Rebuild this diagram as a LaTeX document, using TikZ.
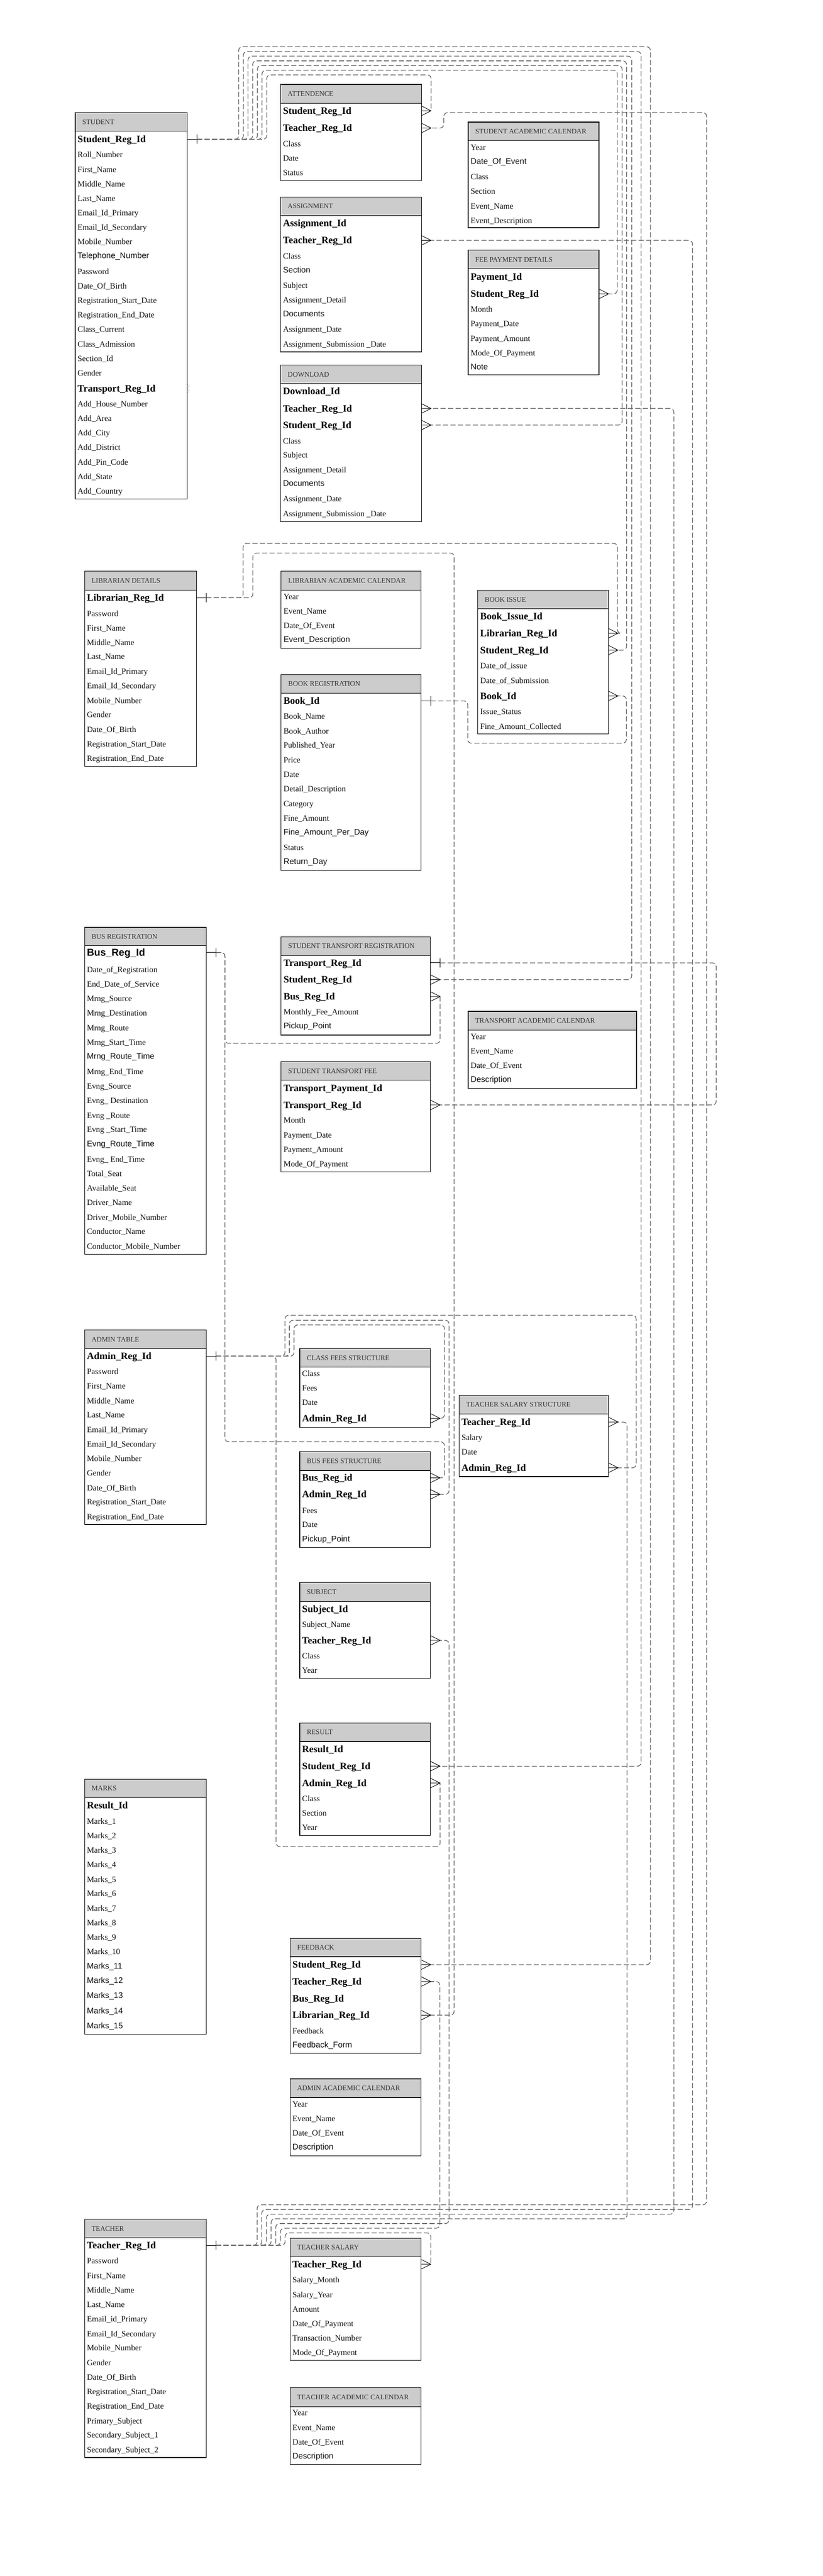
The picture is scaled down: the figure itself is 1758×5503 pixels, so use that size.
\documentclass[tikz,border=0pt]{standalone}
\usepackage{fontspec}
\setmainfont{Liberation Serif}
\setsansfont{Liberation Sans}
\usetikzlibrary{calc,fit}
\definecolor{hdrgray}{HTML}{CCCCCC}
\definecolor{ttlgray}{HTML}{333333}
\definecolor{lngray}{HTML}{5E5E5E}
\definecolor{txtblack}{HTML}{111111}
\newcounter{rowc}
\newcommand{\ertable}[7]{%
  \gdef\curx{#2}%
  \fill[white] (#2,#4) rectangle (#3,#6);
  \path[hdrbox] (#2,#4) rectangle (#3,#5);
  \coordinate (#1-nw) at (#2,#4);
  \coordinate (#1-se) at (#3,#6);
  \node[fit=(#1-nw)(#1-se), inner sep=0pt, draw=black, line width=1.3pt] (#1) {};
  \node[ttl] (#1-title) at ({#2+15},{(#4+#5)/2}) {#7};
}
\newcommand{\erow}[3]{\stepcounter{rowc}\node[#1] (row-\arabic{rowc}) at ({\curx+5},#2) {#3};}
\newcommand{\erowN}[4]{\node[#1] (#2) at ({\curx+5},#3) {#4};}
\newcommand{\onestart}[1]{\draw[endline] (#1) -- ++(20,0) ++(0,-10) -- ++(0,20);}
\newcommand{\manyend}[1]{\draw[endline] ($(#1)+(0,-10)$) -- ($(#1)+(20,0)$) -- ($(#1)+(0,10)$) (#1) -- ($(#1)+(20,0)$);}
\newcommand{\erlink}[5]{%
  \coordinate (A) at (#1.east |- #2);
  \coordinate (B) at (#3.east |- #4);
  \onestart{A}
  \manyend{B}
  \draw[relline] ($(A)+(20,0)$) #5 ($(B)+(20,0)$);
}
\tikzset{
  hdrbox/.style={draw=black, line width=1.3pt, fill=hdrgray},
  ttl/.style={anchor=west, inner sep=0pt, text height=10pt, text depth=0pt, text=ttlgray, font=\fontsize{15pt}{17pt}\selectfont},
  fr/.style={anchor=west, inner sep=0pt, text height=11.5pt, text depth=0pt, text=txtblack, font=\fontsize{17.5pt}{20pt}\selectfont},
  fb/.style={anchor=west, inner sep=0pt, text height=14pt, text depth=0pt, text=black, font=\fontsize{21pt}{24pt}\selectfont\bfseries},
  fs/.style={anchor=west, inner sep=0pt, text height=12.5pt, text depth=0pt, text=txtblack, font=\fontsize{17.5pt}{20pt}\selectfont\sffamily},
  fsb/.style={anchor=west, inner sep=0pt, text height=15.5pt, text depth=0pt, text=black, font=\fontsize{21.5pt}{24pt}\selectfont\sffamily\bfseries},
  relline/.style={draw=lngray, line width=1.4pt, dash pattern=on 11pt off 5pt, rounded corners=8pt},
  endline/.style={draw=black, line width=1pt},
}
\begin{document}
\begin{tikzpicture}[x=1pt,y=-1pt]
\fill[white] (0,0) rectangle (1758,5503);
\useasboundingbox (0,0) rectangle (1758,5503);

% ---------------- tables ----------------
\ertable{stu}{160.7}{400.3}{240.7}{280.2}{1065.7}{STUDENT}
\erowN{fb}{stu-sid}{297.6}{Student\_Reg\_Id}
\erow{fr}{331}{Roll\_Number}
\erow{fr}{362}{First\_Name}
\erow{fr}{393}{Middle\_Name}
\erow{fr}{424}{Last\_Name}
\erow{fr}{455}{Email\_Id\_Primary}
\erow{fr}{486}{Email\_Id\_Secondary}
\erow{fr}{517}{Mobile\_Number}
\erow{fs}{546}{Telephone\_Number}
\erow{fr}{580}{Password}
\erow{fr}{611}{Date\_Of\_Birth}
\erow{fr}{642}{Registration\_Start\_Date}
\erow{fr}{673}{Registration\_End\_Date}
\erow{fr}{704}{Class\_Current}
\erow{fr}{735}{Class\_Admission}
\erow{fr}{766}{Section\_Id}
\erow{fr}{797}{Gender}
\erowN{fb}{stu-tid}{830}{Transport\_Reg\_Id}
\erow{fr}{863}{Add\_House\_Number}
\erow{fr}{894}{Add\_Area}
\erow{fr}{925}{Add\_City}
\erow{fr}{956}{Add\_District}
\erow{fr}{987}{Add\_Pin\_Code}
\erow{fr}{1018}{Add\_State}
\erow{fr}{1049}{Add\_Country}

\ertable{att}{599.7}{900.5}{180.4}{220.6}{385.4}{ATTENDENCE}
\erowN{fb}{att-sid}{236.7}{Student\_Reg\_Id}
\erowN{fb}{att-tid}{273.5}{Teacher\_Reg\_Id}
\erow{fr}{307}{Class}
\erow{fr}{337.8}{Date}
\erow{fr}{369}{Status}

\ertable{asg}{599.7}{900.5}{420.9}{460.4}{751.7}{ASSIGNMENT}
\erow{fb}{477}{Assignment\_Id}
\erowN{fb}{asg-tid}{513.5}{Teacher\_Reg\_Id}
\erow{fr}{547}{Class}
\erow{fs}{576}{Section}
\erow{fr}{610}{Subject}
\erow{fr}{641}{Assignment\_Detail}
\erow{fs}{670.6}{Documents}
\erow{fr}{704}{Assignment\_Date}
\erow{fr}{735.6}{Assignment\_Submission \_Date}

\ertable{dwn}{599.7}{900.5}{779.8}{819.3}{1114.6}{DOWNLOAD}
\erow{fb}{836}{Download\_Id}
\erowN{fb}{dwn-tid}{872.6}{Teacher\_Reg\_Id}
\erowN{fb}{dwn-sid}{908}{Student\_Reg\_Id}
\erow{fr}{942}{Class}
\erow{fr}{972.6}{Subject}
\erow{fr}{1004}{Assignment\_Detail}
\erow{fs}{1032}{Documents}
\erow{fr}{1066}{Assignment\_Date}
\erow{fr}{1098}{Assignment\_Submission \_Date}

\ertable{sac}{1000.5}{1280}{260.8}{300.3}{486.5}{STUDENT ACADEMIC CALENDAR}
\erow{fr}{315}{Year}
\erow{fs}{344.5}{Date\_Of\_Event}
\erow{fr}{378}{Class}
\erow{fr}{408.8}{Section}
\erow{fr}{440}{Event\_Name}
\erow{fr}{471}{Event\_Description}

\ertable{fee}{1000.5}{1280}{534.7}{574}{801}{FEE PAYMENT DETAILS}
\erow{fb}{591.6}{Payment\_Id}
\erowN{fb}{fee-sid}{627.8}{Student\_Reg\_Id}
\erow{fr}{661}{Month}
\erow{fr}{692}{Payment\_Date}
\erow{fr}{723.5}{Payment\_Amount}
\erow{fr}{754}{Mode\_Of\_Payment}
\erow{fs}{783}{Note}

\ertable{lib}{180.6}{420}{1220.4}{1261}{1636.7}{LIBRARIAN DETAILS}
\erowN{fb}{lib-lid}{1277}{Librarian\_Reg\_Id}
\erow{fr}{1310.7}{Password}
\erow{fr}{1342}{First\_Name}
\erow{fr}{1372.7}{Middle\_Name}
\erow{fr}{1403}{Last\_Name}
\erow{fr}{1434.7}{Email\_Id\_Primary}
\erow{fr}{1465}{Email\_Id\_Secondary}
\erow{fr}{1496.7}{Mobile\_Number}
\erow{fr}{1527}{Gender}
\erow{fr}{1558.7}{Date\_Of\_Birth}
\erow{fr}{1589}{Registration\_Start\_Date}
\erow{fr}{1620.6}{Registration\_End\_Date}

\ertable{lac}{600.8}{900}{1220.4}{1261}{1385}{LIBRARIAN ACADEMIC CALENDAR}
\erow{fr}{1274.7}{Year}
\erow{fr}{1306}{Event\_Name}
\erow{fr}{1336.7}{Date\_Of\_Event}
\erow{fs}{1365.8}{Event\_Description}

\ertable{bkr}{600.8}{900}{1440.8}{1480.6}{1859.4}{BOOK REGISTRATION}
\erowN{fb}{bkr-bid}{1497.4}{Book\_Id}
\erow{fr}{1530}{Book\_Name}
\erow{fr}{1561.7}{Book\_Author}
\erow{fr}{1592}{Published\_Year}
\erow{fr}{1623.7}{Price}
\erow{fr}{1654}{Date}
\erow{fr}{1685.7}{Detail\_Description}
\erow{fr}{1717}{Category}
\erow{fr}{1747.7}{Fine\_Amount}
\erow{fs}{1776.8}{Fine\_Amount\_Per\_Day}
\erow{fr}{1810.4}{Status}
\erow{fs}{1839.5}{Return\_Day}

\ertable{bki}{1021}{1300}{1261}{1300}{1567.8}{BOOK ISSUE}
\erow{fb}{1316.8}{Book\_Issue\_Id}
\erowN{fb}{bki-lid}{1352.8}{Librarian\_Reg\_Id}
\erowN{fb}{bki-sid}{1388.8}{Student\_Reg\_Id}
\erow{fr}{1422.4}{Date\_of\_issue}
\erow{fr}{1453.8}{Date\_of\_Submission}
\erowN{fb}{bki-bid}{1486.7}{Book\_Id}
\erow{fr}{1520}{Issue\_Status}
\erow{fr}{1551.8}{Fine\_Amount\_Collected}

\ertable{bus}{180.6}{440.8}{1981}{2020}{2679.6}{BUS REGISTRATION}
\erowN{fsb}{bus-bid}{2034.7}{Bus\_Reg\_Id}
\erow{fr}{2071.4}{Date\_of\_Registration}
\erow{fr}{2102}{End\_Date\_of\_Service}
\erow{fr}{2133.4}{Mrng\_Source}
\erow{fr}{2164.5}{Mrng\_Destination}
\erow{fr}{2196}{Mrng\_Route}
\erow{fr}{2226.5}{Mrng\_Start\_Time}
\erow{fs}{2256.4}{Mrng\_Route\_Time}
\erow{fr}{2289}{Mrng\_End\_Time}
\erow{fr}{2320.7}{Evng\_Source}
\erow{fr}{2351}{Evng\_ Destination}
\erow{fr}{2382.6}{Evng \_Route}
\erow{fr}{2413}{Evng \_Start\_Time}
\erow{fs}{2443}{Evng\_Route\_Time}
\erow{fr}{2476.8}{Evng\_ End\_Time}
\erow{fr}{2507.4}{Total\_Seat}
\erow{fr}{2538.8}{Available\_Seat}
\erow{fr}{2569.4}{Driver\_Name}
\erow{fr}{2600.8}{Driver\_Mobile\_Number}
\erow{fr}{2631}{Conductor\_Name}
\erow{fr}{2662.7}{Conductor\_Mobile\_Number}

\ertable{str}{600.8}{919.9}{2001}{2040.8}{2211}{STUDENT TRANSPORT REGISTRATION}
\erowN{fb}{str-tid}{2056.9}{Transport\_Reg\_Id}
\erowN{fb}{str-sid}{2092.8}{Student\_Reg\_Id}
\erowN{fb}{str-bid}{2128.8}{Bus\_Reg\_Id}
\erow{fr}{2162.3}{Monthly\_Fee\_Amount}
\erow{fs}{2191.5}{Pickup\_Point}

\ertable{tac}{1000.5}{1360.3}{2160.5}{2200.3}{2325}{TRANSPORT ACADEMIC CALENDAR}
\erow{fr}{2214.5}{Year}
\erow{fr}{2246}{Event\_Name}
\erow{fr}{2276.5}{Date\_Of\_Event}
\erow{fs}{2306}{Description}

\ertable{stf}{600.8}{919.9}{2267.9}{2307.6}{2503.6}{STUDENT TRANSPORT FEE}
\erow{fb}{2324.5}{Transport\_Payment\_Id}
\erowN{fb}{stf-tid}{2360.5}{Transport\_Reg\_Id}
\erow{fr}{2393.4}{Month}
\erow{fr}{2424.7}{Payment\_Date}
\erow{fr}{2456}{Payment\_Amount}
\erow{fr}{2486.7}{Mode\_Of\_Payment}

\ertable{adm}{180.6}{440.8}{2841}{2880.9}{3256.6}{ADMIN TABLE}
\erowN{fb}{adm-aid}{2897}{Admin\_Reg\_Id}
\erow{fr}{2930.6}{Password}
\erow{fr}{2961}{First\_Name}
\erow{fr}{2992.6}{Middle\_Name}
\erow{fr}{3023}{Last\_Name}
\erow{fr}{3054.6}{Email\_Id\_Primary}
\erow{fr}{3085}{Email\_Id\_Secondary}
\erow{fr}{3116.6}{Mobile\_Number}
\erow{fr}{3147}{Gender}
\erow{fr}{3178.6}{Date\_Of\_Birth}
\erow{fr}{3209}{Registration\_Start\_Date}
\erow{fr}{3240.6}{Registration\_End\_Date}

\ertable{cfs}{640.5}{919.9}{2880.9}{2920.7}{3049}{CLASS FEES STRUCTURE}
\erow{fr}{2934.4}{Class}
\erow{fr}{2965.8}{Fees}
\erow{fr}{2996.4}{Date}
\erowN{fb}{cfs-aid}{3030}{Admin\_Reg\_Id}

\ertable{bfs}{640.5}{919.9}{3101.3}{3141}{3305.6}{BUS FEES STRUCTURE}
\erowN{fb}{bfs-bid}{3157}{Bus\_Reg\_id}
\erowN{fb}{bfs-aid}{3192.3}{Admin\_Reg\_Id}
\erow{fr}{3226.8}{Fees}
\erow{fr}{3257.4}{Date}
\erow{fs}{3287.2}{Pickup\_Point}

\ertable{tss}{981}{1300.3}{2980.5}{3020.7}{3154.2}{TEACHER SALARY STRUCTURE}
\erowN{fb}{tss-tid}{3037.8}{Teacher\_Reg\_Id}
\erow{fr}{3070.6}{Salary}
\erow{fr}{3101.3}{Date}
\erowN{fb}{tss-aid}{3135.5}{Admin\_Reg\_Id}

\ertable{sub}{640.5}{919.9}{3380.4}{3421}{3585.5}{SUBJECT}
\erow{fb}{3437}{Subject\_Id}
\erow{fr}{3470.7}{Subject\_Name}
\erowN{fb}{sub-tid}{3504.3}{Teacher\_Reg\_Id}
\erow{fr}{3538}{Class}
\erow{fr}{3568.6}{Year}

\ertable{res}{640.5}{919.9}{3681}{3720}{3920.6}{RESULT}
\erow{fb}{3737}{Result\_Id}
\erowN{fb}{res-sid}{3773}{Student\_Reg\_Id}
\erowN{fb}{res-aid}{3809}{Admin\_Reg\_Id}
\erow{fr}{3842.6}{Class}
\erow{fr}{3873}{Section}
\erow{fr}{3904.6}{Year}

\ertable{mrk}{180.6}{440.8}{3800.5}{3840.3}{4345.4}{MARKS}
\erow{fb}{3857}{Result\_Id}
\erow{fr}{3890.8}{Marks\_1}
\erow{fr}{3921.4}{Marks\_2}
\erow{fr}{3952.8}{Marks\_3}
\erow{fr}{3983.4}{Marks\_4}
\erow{fr}{4014.8}{Marks\_5}
\erow{fr}{4045.4}{Marks\_6}
\erow{fr}{4076.8}{Marks\_7}
\erow{fr}{4107.4}{Marks\_8}
\erow{fr}{4138.8}{Marks\_9}
\erow{fr}{4169.4}{Marks\_10}
\erow{fs}{4199.2}{Marks\_11}
\erow{fs}{4230.6}{Marks\_12}
\erow{fs}{4262.7}{Marks\_13}
\erow{fs}{4294.9}{Marks\_14}
\erow{fs}{4327}{Marks\_15}

\ertable{fbk}{619.9}{900}{4141}{4180}{4386.7}{FEEDBACK}
\erowN{fb}{fbk-sid}{4197}{Student\_Reg\_Id}
\erowN{fb}{fbk-tid}{4233}{Teacher\_Reg\_Id}
\erow{fb}{4268.9}{Bus\_Reg\_Id}
\erowN{fb}{fbk-lid}{4304.8}{Librarian\_Reg\_Id}
\erow{fr}{4338.5}{Feedback}
\erow{fs}{4368.3}{Feedback\_Form}

\ertable{aac}{619.9}{900}{4440.8}{4480.5}{4605.3}{ADMIN ACADEMIC CALENDAR}
\erow{fr}{4495}{Year}
\erow{fr}{4525.7}{Event\_Name}
\erow{fr}{4556.3}{Date\_Of\_Event}
\erow{fs}{4586}{Description}

\ertable{tch}{180.6}{440.8}{4740.7}{4780.5}{5249.7}{TEACHER}
\erowN{fb}{tch-tid}{4796.6}{Teacher\_Reg\_Id}
\erow{fr}{4830}{Password}
\erow{fr}{4861.7}{First\_Name}
\erow{fr}{4892}{Middle\_Name}
\erow{fr}{4923.6}{Last\_Name}
\erow{fr}{4954}{Email\_id\_Primary}
\erow{fr}{4985.6}{Email\_Id\_Secondary}
\erow{fr}{5016}{Mobile\_Number}
\erow{fr}{5047.6}{Gender}
\erow{fr}{5078}{Date\_Of\_Birth}
\erow{fr}{5109.6}{Registration\_Start\_Date}
\erow{fr}{5140}{Registration\_End\_Date}
\erow{fr}{5171.6}{Primary\_Subject}
\erow{fr}{5202}{Secondary\_Subject\_1}
\erow{fr}{5233.6}{Secondary\_Subject\_2}

\ertable{tsl}{619.9}{900}{4781.3}{4821}{5042.3}{TEACHER SALARY}
\erowN{fb}{tsl-tid}{4837}{Teacher\_Reg\_Id}
\erow{fr}{4870.8}{Salary\_Month}
\erow{fr}{4902}{Salary\_Year}
\erow{fr}{4932.8}{Amount}
\erow{fr}{4964}{Date\_Of\_Payment}
\erow{fr}{4994.8}{Transaction\_Number}
\erow{fr}{5026}{Mode\_Of\_Payment}

\ertable{tcal}{619.9}{900}{5100.4}{5141}{5265}{TEACHER ACADEMIC CALENDAR}
\erow{fr}{5154.8}{Year}
\erow{fr}{5186}{Event\_Name}
\erow{fr}{5216.7}{Date\_Of\_Event}
\erow{fs}{5245.8}{Description}

% ---------------- connectors ----------------
% student
\erlink{stu}{stu-sid}{att}{att-sid}{-| (570,160) -|}
\erlink{stu}{stu-sid}{fee}{fee-sid}{-| (560,150) -- (1319,150) |-}
\erlink{stu}{stu-sid}{dwn}{dwn-sid}{-| (550,140) -- (1329.5,140) |-}
\erlink{stu}{stu-sid}{bki}{bki-sid}{-| (540,130) -- (1339,130) |-}
\erlink{stu}{stu-sid}{str}{str-sid}{-| (530,120) -- (1350,120) |-}
\erlink{stu}{stu-sid}{res}{res-sid}{-| (520,110) -- (1370,110) |-}
\erlink{stu}{stu-sid}{fbk}{fbk-sid}{-| (510,100) -- (1390,100) |-}
% teacher
\erlink{tch}{tch-tid}{att}{att-tid}{-| (549.5,4710) -- (1510,4710) |- (948.4,240.7) |-}
\erlink{tch}{tch-tid}{asg}{asg-tid}{-| (559.4,4720) -- (1480,4720) |-}
\erlink{tch}{tch-tid}{dwn}{dwn-tid}{-| (569.4,4730) -- (1440,4730) |-}
\erlink{tch}{tch-tid}{tss}{tss-tid}{-| (579.3,4740) -- (1340,4740) |-}
\erlink{tch}{tch-tid}{sub}{sub-tid}{-| (589.3,4750) -- (959.7,4750) |-}
\erlink{tch}{tch-tid}{fbk}{fbk-tid}{-| (599.2,4760) -- (939.8,4760) |-}
\erlink{tch}{tch-tid}{tsl}{tsl-tid}{-| (609.2,4770) -|}
% librarian
\erlink{lib}{lib-lid}{bki}{bki-lid}{-| (519.6,1160.7) -- (1319.4,1160.7) |-}
\erlink{lib}{lib-lid}{fbk}{fbk-lid}{-| (540.3,1181.4) -- (970.4,1181.4) |-}
% book
\erlink{bkr}{bkr-bid}{bki}{bki-bid}{-| (999.5,1587.7) -- (1338.5,1587.7) |-}
% bus
\erlink{bus}{bus-bid}{str}{str-bid}{-| (480.6,2228.8) -|}
\erlink{bus}{bus-bid}{bfs}{bfs-bid}{-| (480.6,3080) -- (949.7,3080) |-}
% transport
\erlink{str}{str-tid}{stf}{stf-tid}{-- ++(590,0) |-}
% admin
\erlink{adm}{adm-aid}{tss}{tss-aid}{-| (609,2809.7) -- (1359.4,2809.7) |-}
\erlink{adm}{adm-aid}{bfs}{bfs-aid}{-| (618.4,2820.4) -- (959.7,2820.4) |-}
\erlink{adm}{adm-aid}{cfs}{cfs-aid}{-| (628.3,2830.3) -- (949.7,2830.3) |-}
\erlink{adm}{adm-aid}{res}{res-aid}{-| (590,3945) -|}

% faint crow's foot mark on STUDENT.Transport_Reg_Id
\coordinate (stm) at (stu.east |- stu-tid);
\draw[gray!70, line width=0.6pt] ($(stm)+(0,-9)$) -- ($(stm)+(3.5,-5)$) -- ($(stm)+(0,-1)$)
  ($(stm)+(0,1)$) -- ($(stm)+(3.5,5)$) -- ($(stm)+(0,9)$);
\end{tikzpicture}
\end{document}
